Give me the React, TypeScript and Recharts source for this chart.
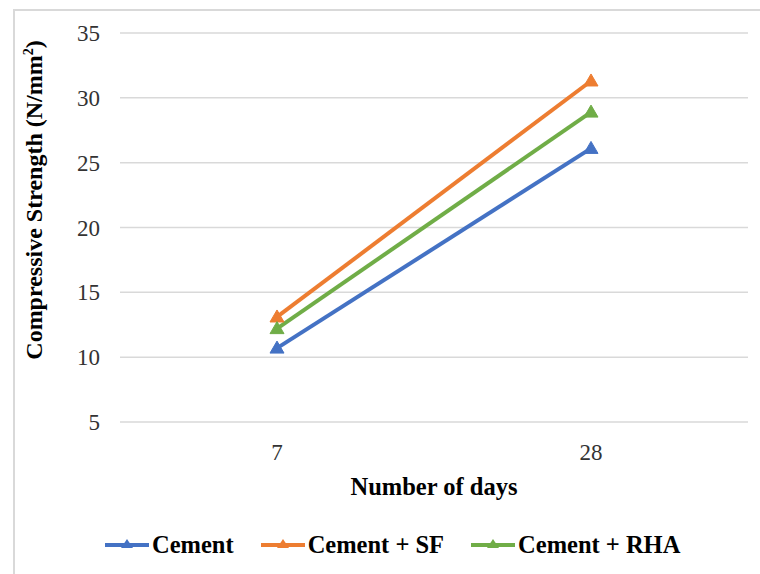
import React from 'react';
import { LineChart, Line, XAxis, YAxis, CartesianGrid, Legend, Label } from 'recharts';

const days = ['7', '28'];
const cement = [10.7, 26.1];
const cementSF = [13.1, 31.3];
const cementRHA = [12.2, 28.9];
const yTicks = [5, 10, 15, 20, 25, 30, 35];

const seriesNames = ['Cement', 'Cement + SF', 'Cement + RHA'];
const seriesKeys = ['cement', 'sf', 'rha'];
const seriesColors = ['#4472C4', '#ED7D31', '#70AD47'];

const data = days.map((d, i) => ({
  day: d,
  cement: cement[i],
  sf: cementSF[i],
  rha: cementRHA[i],
}));

const FONT = '"Liberation Serif", "Times New Roman", serif';

const makeTriangle = (color: string) => (props: any) => {
  const { cx, cy, key } = props;
  if (cx == null || cy == null) return <g key={key} />;
  return (
    <path
      key={key}
      d={`M${cx},${cy - 7} L${cx + 7},${cy + 5} L${cx - 7},${cy + 5} Z`}
      fill={color}
      stroke={color}
    />
  );
};

const LegendContent = () => (
  <div
    style={{
      display: 'flex',
      alignItems: 'center',
      height: 40,
      paddingLeft: 97,
      fontFamily: FONT,
      fontWeight: 'bold',
      fontSize: 24.5,
      color: '#000',
      whiteSpace: 'nowrap',
    }}
  >
    {seriesNames.map((n, i) => (
      <div
        key={n}
        style={{ display: 'flex', alignItems: 'center', marginRight: i < 2 ? 27 : 0, flexShrink: 0 }}
      >
        <svg width={44} height={16} style={{ marginRight: 3 }}>
          <line x1={0} y1={8} x2={44} y2={8} stroke={seriesColors[i]} strokeWidth={4} />
          <path d="M22,2 L28,11 L16,11 Z" fill={seriesColors[i]} />
        </svg>
        <span>{n}</span>
      </div>
    ))}
  </div>
);

export default function App() {
  return (
    <div
      style={{
        position: 'absolute',
        left: 0,
        top: 0,
        width: 760,
        height: 574,
        overflow: 'hidden',
        background: '#fff',
      }}
    >
      <div
        style={{
          position: 'absolute',
          left: 13,
          top: 9,
          width: 800,
          height: 700,
          borderLeft: '2px solid #d9d9d9',
          borderTop: '2px solid #d9d9d9',
        }}
      />
      <div style={{ position: 'absolute', left: 8, top: 8 }}>
        <LineChart
          width={752}
          height={566}
          data={data}
          margin={{ top: 25, right: 12, left: 52, bottom: 9 }}
        >
          <CartesianGrid vertical={false} stroke="#d9d9d9" strokeWidth={1.5} />
          <XAxis
            dataKey="day"
            scale="band"
            axisLine={false}
            tickLine={false}
            height={103}
            tickMargin={16}
            tick={{ fontSize: 23, fill: '#333', fontFamily: FONT }}
          >
            <Label
              content={(props: any) => {
                const vb = props.viewBox || {};
                return (
                  <text
                    x={vb.x + vb.width / 2}
                    y={vb.y + 73}
                    textAnchor="middle"
                    fontFamily={FONT}
                    fontWeight="bold"
                    fontSize={24.5}
                    fill="#000"
                  >
                    Number of days
                  </text>
                );
              }}
            />
          </XAxis>
          <YAxis
            domain={[5, 35]}
            ticks={yTicks}
            axisLine={false}
            tickLine={false}
            width={60}
            tickMargin={14}
            tick={{ fontSize: 23, fill: '#333', fontFamily: FONT }}
          >
            <Label
              content={() => (
                <text
                  x={34}
                  y={192}
                  transform="rotate(-90, 34, 192)"
                  textAnchor="middle"
                  fontFamily={FONT}
                  fontWeight="bold"
                  fontSize={24}
                  fill="#000"
                >
                  Compressive Strength (N/mm
                  <tspan fontSize={14} dy={-9}>2</tspan>
                  <tspan dy={9}>)</tspan>
                </text>
              )}
            />
          </YAxis>
          <Legend
            verticalAlign="bottom"
            wrapperStyle={{ left: 0, width: 752 }}
            content={<LegendContent />}
          />
          {seriesKeys.map((k, i) => (
            <Line
              key={k}
              type="linear"
              dataKey={k}
              name={seriesNames[i]}
              stroke={seriesColors[i]}
              strokeWidth={4}
              dot={makeTriangle(seriesColors[i])}
              activeDot={false}
              isAnimationActive={false}
            />
          ))}
        </LineChart>
      </div>
    </div>
  );
}
